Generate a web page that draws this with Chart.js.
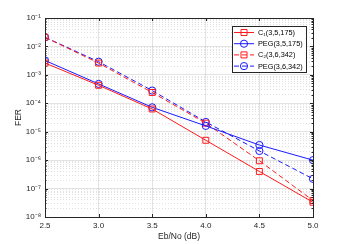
<!DOCTYPE html>
<html><head><meta charset="utf-8">
<script src="https://cdn.jsdelivr.net/npm/chart.js@4/dist/chart.umd.min.js"></script>
<style>html,body{margin:0;padding:0;background:#fff;}canvas{display:block;}</style>
</head><body>
<canvas id="c" width="346" height="244"></canvas>
<script>
const ebno = [2.5, 3, 3.5, 4, 4.5, 5];
const c1 = [2.6e-3, 4.3e-4, 6.3e-5, 5.0e-6, 4.0e-7, 3.3e-8];
const peg1 = [3.2e-3, 4.8e-4, 7.2e-5, 1.6e-5, 3.4e-6, 1.0e-6];
const c2 = [2.1e-2, 2.6e-3, 2.4e-4, 2.0e-5, 9.5e-7, 3.8e-8];
const peg2 = [2.1e-2, 2.9e-3, 2.8e-4, 2.2e-5, 2.1e-6, 2.2e-7];
const seriesLabels = ['C\u2081(3,5,175)', 'PEG(3,5,175)', 'C\u2082(3,6,342)', 'PEG(3,6,342)'];
const yTickLabels = ['10\u207B\u2078','10\u207B\u2077','10\u207B\u2076','10\u207B\u2075','10\u207B\u2074','10\u207B\u00B3','10\u207B\u00B2','10\u207B\u00B9'];
const xTitle = 'Eb/No (dB)';
const yTitle = 'FER';

const RED = '#ff1a1a', BLUE = '#1a1aff';
const pts = arr => ebno.map((x, i) => ({x, y: arr[i]}));
const mk = (label, data, color, style, dashed, r) => ({
  label, data: pts(data), borderColor: color, backgroundColor: 'rgba(0,0,0,0)',
  borderWidth: 1, borderDash: dashed ? [5, 3] : [], pointStyle: style,
  pointRadius: r, pointBorderWidth: 1, pointBorderColor: color, pointBackgroundColor: 'rgba(0,0,0,0)',
  tension: 0, fill: false
});
const datasets = [
  mk(seriesLabels[0], c1, RED, 'rect', false, 4.2),
  mk(seriesLabels[1], peg1, BLUE, 'circle', false, 3.6),
  mk(seriesLabels[2], c2, RED, 'rect', true, 4.2),
  mk(seriesLabels[3], peg2, BLUE, 'circle', true, 3.6)
];

const isMajor = v => Math.abs(Math.log10(v) - Math.round(Math.log10(v))) < 1e-6;
const AX = '#262626';
const FONT = '"Liberation Sans", Arial, sans-serif';

const boxPlugin = {
  id: 'box',
  afterDatasetsDraw(chart) {
    const {ctx, chartArea: a} = chart;
    ctx.save();
    ctx.strokeStyle = AX; ctx.lineWidth = 1;
    ctx.strokeRect(Math.round(a.left) + 0.5, Math.round(a.top) + 0.5, Math.round(a.right - a.left), Math.round(a.bottom - a.top));
    const xs = chart.scales.x, ys = chart.scales.y;
    ctx.beginPath();
    xs.ticks.forEach(t => { const px = Math.round(xs.getPixelForValue(t.value)) + 0.5;
      ctx.moveTo(px, a.bottom); ctx.lineTo(px, a.bottom - 3); ctx.moveTo(px, a.top); ctx.lineTo(px, a.top + 3); });
    ys.ticks.forEach(t => { const py = Math.round(ys.getPixelForValue(t.value)) + 0.5; const L = isMajor(t.value) ? 3 : 1.5;
      ctx.moveTo(a.left, py); ctx.lineTo(a.left + L, py); ctx.moveTo(a.right, py); ctx.lineTo(a.right - L, py); });
    ctx.stroke();
    ctx.restore();
  },
  afterDraw(chart) {
    const {ctx} = chart;
    const bx = 232.5, by = 26.5, bw = 74, bh = 46;
    ctx.save();
    ctx.fillStyle = '#fff'; ctx.fillRect(bx, by, bw, bh);
    ctx.strokeStyle = AX; ctx.lineWidth = 1; ctx.strokeRect(bx, by, bw, bh);
    ctx.font = '7.3px ' + FONT; ctx.textBaseline = 'middle'; ctx.fillStyle = '#000';
    chart.data.datasets.forEach((ds, i) => {
      const y = 32.5 + i * 11.2;
      ctx.strokeStyle = ds.borderColor; ctx.lineWidth = 1;
      ctx.setLineDash(ds.borderDash);
      ctx.beginPath(); ctx.moveTo(234, y); ctx.lineTo(254, y); ctx.stroke();
      ctx.setLineDash([]);
      ctx.beginPath();
      if (ds.pointStyle === 'rect') { ctx.rect(241, y - 3, 6, 6); }
      else { ctx.arc(244, y, 3.6, 0, Math.PI * 2); }
      ctx.stroke();
      ctx.fillStyle = '#000';
      ctx.fillText(ds.label, 258, y + 0.5);
    });
    ctx.restore();
  }
};

new Chart(document.getElementById('c'), {
  type: 'line',
  data: { datasets },
  plugins: [boxPlugin],
  options: {
    responsive: false, animation: false, devicePixelRatio: 1,
    layout: { padding: { top: 18, right: 33, left: 0, bottom: 0 } },
    plugins: { legend: { display: false }, tooltip: { enabled: false } },
    scales: {
      x: {
        type: 'linear', min: 2.5, max: 5,
        afterFit: s => { s.height = 27; },
        ticks: { stepSize: 0.5, color: AX, font: { size: 8, family: FONT }, padding: 4, maxRotation: 0 },
        grid: { color: 'rgba(0,0,0,0.11)', drawTicks: false },
        border: { display: false },
        title: { display: true, text: xTitle, color: AX, font: { size: 8.5, family: FONT }, padding: { top: 1, bottom: 2 } }
      },
      y: {
        type: 'logarithmic', min: 1e-8, max: 1e-1,
        afterFit: s => { s.width = 45; },
        afterBuildTicks: s => {
          const t = [];
          for (let k = -8; k <= -1; k++) for (let m = 1; m <= 9; m++) { const v = m * Math.pow(10, k); if (v <= 1.0000001e-1) t.push({ value: v }); }
          s.ticks = t;
        },
        ticks: {
          autoSkip: false, color: AX, font: { size: 8, family: FONT }, padding: 4,
          callback: v => isMajor(v) ? yTickLabels[Math.round(Math.log10(v)) + 8] : ''
        },
        grid: {
          drawTicks: false,
          color: c => isMajor(c.tick.value) ? 'rgba(0,0,0,0.11)' : 'rgba(0,0,0,0.12)'
        },
        border: { display: false, dash: c => (c.tick && isMajor(c.tick.value)) ? [] : [1, 2] },
        title: { display: true, text: yTitle, color: AX, font: { size: 8.5, family: FONT }, padding: { top: 14, bottom: 0 } }
      }
    }
  }
});
</script>
</body></html>
